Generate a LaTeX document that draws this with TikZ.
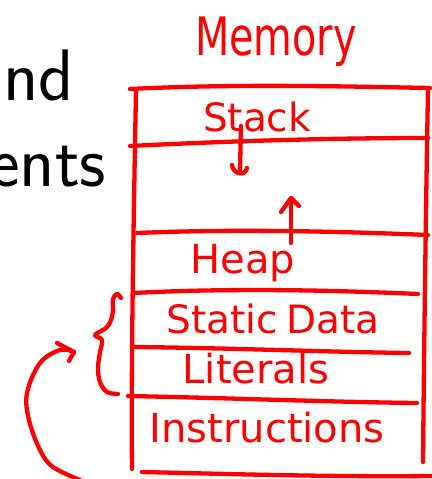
\documentclass[tikz,border=0pt]{standalone}
\usepackage{fontspec}
\newfontfamily\handfont{DejaVu Sans}
\begin{document}
\begin{tikzpicture}[x=1pt,y=-1pt,
  ink/.style={draw=red, line width=4.3pt, line cap=round, line join=round},
  hand/.style={text=red, inner sep=0pt, anchor=base, font=\handfont\fontsize{#1}{#1}\selectfont},
  slide/.style={font=\sffamily\fontsize{73}{86}\selectfont, inner sep=0pt, anchor=base west}]
\useasboundingbox (0,0) rectangle (431,479);

% slide text on the left
\node[slide] (andword) at (3,100) {nd};
\node[slide] (segword) at (-11,186) {ents};

% title
\node[hand=53] (mem) at (276,55) {\scalebox{0.75}[1]{Memory}};

% memory block outline and dividers
\draw[ink] (130,89) .. controls (230,84) and (330,86) .. (430,88);
\draw[ink] (136,90) .. controls (133,250) and (131,380) .. (132,469);
\draw[ink] (428,88) .. controls (426,200) and (424,350) .. (423,462);
\draw[ink] (130,146) .. controls (230,141) and (330,138) .. (428,138);
\draw[ink] (137,233) .. controls (230,229) and (330,231) .. (428,235);
\draw[ink] (133,293) .. controls (230,288) and (330,290) .. (418,294);
\draw[ink] (135,347) .. controls (230,348) and (330,352) .. (409,353);
\draw[ink] (128,396) .. controls (230,398) and (330,402) .. (417,403);
\draw[ink] (142,472) .. controls (230,474) and (330,477) .. (431,476);

% segment labels
\node[hand=39] (stack) at (257,131) {Stack};
\node[hand=40] (heap) at (243,273) {Heap};
\node[hand=39] (static) at (273,333) {Static\hspace{8pt}Data};
\node[hand=40] (lits) at (256,383) {Literals};
\node[hand=40] (instr) at (267,442) {Instructions};

% stack grows down
\coordinate (sdtop) at (241,126);
\coordinate (sdbot) at (240,170);
\draw[ink] (sdtop) -- (sdbot);
\draw[ink] (232,165) .. controls (233,174) and (245,177) .. (247,168);

% heap grows up
\coordinate (hutop) at (291,198);
\coordinate (hubot) at (291,243);
\draw[ink] (hubot) -- (hutop);
\draw[ink] (281,212) -- (hutop) -- (299,206);

% brace around static data and literals
\draw[ink] plot[smooth, tension=0.6] coordinates {(121,298) (117,294) (113,299) (113,310) (111,320) (106,328) (95,335) (102,340) (100,352) (98,368) (100,382) (107,392) (118,394)};

% curved arrow from the instructions
\coordinate (cstart) at (80,480);
\coordinate (ctip) at (74,352);
\draw[ink] plot[smooth, tension=0.6] coordinates {(cstart) (53,467) (40,450) (29,420) (27,393) (40,363) (60,350) (ctip)};
\draw[ink] (57,343) -- (ctip) -- (69,361);
\end{tikzpicture}
\end{document}
